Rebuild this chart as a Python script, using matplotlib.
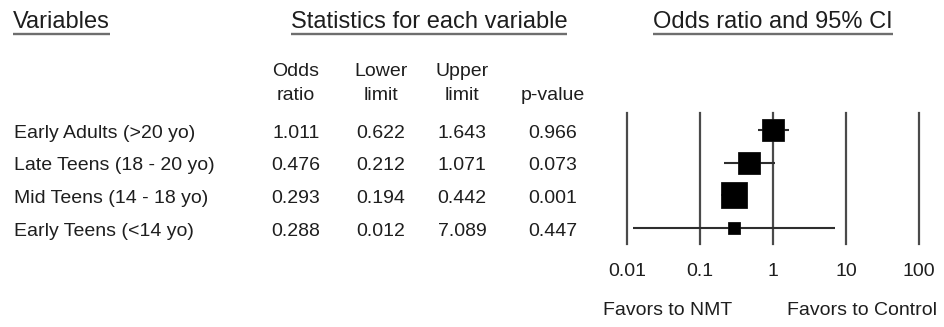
import matplotlib
matplotlib.use("Agg")
import matplotlib.pyplot as plt
import numpy as np

# ---- data -------------------------------------------------------------
variables = [
    "Early Adults (>20 yo)",
    "Late Teens (18 - 20 yo)",
    "Mid Teens (14 - 18 yo)",
    "Early Teens (<14 yo)",
]
odds_ratio = [1.011, 0.476, 0.293, 0.288]
lower_limit = [0.622, 0.212, 0.194, 0.012]
upper_limit = [1.643, 1.071, 0.442, 7.089]
p_value = [0.966, 0.073, 0.001, 0.447]
rel_weight = [27, 27, 39, 7]          # relative study weight (%), sets box size

column_headers = [("Odds", "ratio"), ("Lower", "limit"), ("Upper", "limit"), ("", "p-value")]
scale_ticks = [0.01, 0.1, 1, 10, 100]
scale_labels = ["0.01", "0.1", "1", "10", "100"]

# ---- figure setup -----------------------------------------------------
plt.rcParams["font.family"] = ["Liberation Sans", "DejaVu Sans"]
W, H, DPI = 945, 327, 100
TEXT = "#1e1e1e"
TITLE_FS, BODY_FS = 17, 14

fig = plt.figure(figsize=(W / DPI, H / DPI), dpi=DPI)
fig.patch.set_facecolor("white")

# overlay in pixel units for the table text
tx = fig.add_axes([0, 0, 1, 1])
tx.set_xlim(0, W)
tx.set_ylim(H, 0)
tx.axis("off")

# forest plot panel
AX_L, AX_R, AX_T, AX_B = 627, 919, 113, 244
ROW0, ROW_STEP = 130, 32.7
ax = fig.add_axes([AX_L / W, 1 - AX_B / H, (AX_R - AX_L) / W, (AX_B - AX_T) / H])
ax.set_xscale("log")
ax.set_xlim(scale_ticks[0], scale_ticks[-1])
ax.set_ylim(3 + (AX_B - (ROW0 + 3 * ROW_STEP)) / ROW_STEP, -(ROW0 - AX_T) / ROW_STEP)
ax.axis("off")
ax.patch.set_alpha(0)

for t in scale_ticks:
    ax.axvline(t, ymin=0, ymax=1, color="#4a4a4a", lw=1.6, clip_on=False, zorder=1)

rows = np.arange(len(variables))
ax.hlines(rows, lower_limit, upper_limit, color="#2e2e2e", lw=1.5, zorder=2)
for r, orv, w in zip(rows, odds_ratio, rel_weight):
    side_px = 4.23 * np.sqrt(w)
    ax.plot(orv, r, marker="s", ms=side_px * 72 / DPI, color="black",
            mec="#111111", mew=0.6, zorder=3)

# ---- headings ---------------------------------------------------------
titles = [
    tx.text(13, 28.5, "Variables", fontsize=TITLE_FS, color=TEXT, ha="left", va="baseline"),
    tx.text(429, 28.5, "Statistics for each variable", fontsize=TITLE_FS, color=TEXT,
            ha="center", va="baseline"),
    tx.text(773, 28.5, "Odds ratio and 95% CI", fontsize=TITLE_FS, color=TEXT,
            ha="center", va="baseline"),
]

col_x = [296, 381, 462, 553]
for cx, (l1, l2) in zip(col_x, column_headers):
    if l1:
        tx.text(cx, 76.5, l1, fontsize=BODY_FS, color=TEXT, ha="center", va="baseline")
    tx.text(cx, 100, l2, fontsize=BODY_FS, color=TEXT, ha="center", va="baseline")

# ---- table rows -------------------------------------------------------
for i, name in enumerate(variables):
    by = ROW0 + i * ROW_STEP + 7.5
    tx.text(14, by, name, fontsize=BODY_FS, color=TEXT, ha="left", va="baseline")
    vals = [odds_ratio[i], lower_limit[i], upper_limit[i], p_value[i]]
    for cx, v in zip(col_x, vals):
        tx.text(cx, by, f"{v:.3f}", fontsize=BODY_FS, color=TEXT, ha="center", va="baseline")

# ---- scale labels -----------------------------------------------------
for t, lab in zip(scale_ticks, scale_labels):
    px = AX_L + (np.log10(t) - np.log10(scale_ticks[0])) / (
        np.log10(scale_ticks[-1]) - np.log10(scale_ticks[0])) * (AX_R - AX_L)
    tx.text(px, 276.5, lab, fontsize=BODY_FS, color=TEXT, ha="center", va="baseline")

tx.text(603, 315, "Favors to NMT", fontsize=BODY_FS, color=TEXT, ha="left", va="baseline")
tx.text(937, 315, "Favors to Control", fontsize=BODY_FS, color=TEXT, ha="right", va="baseline")

# ---- underline the section headings -----------------------------------
fig.canvas.draw()
renderer = fig.canvas.get_renderer()
for t in titles:
    bb = t.get_window_extent(renderer)
    tx.plot([bb.x0, bb.x1], [33.5, 33.5], color="#6e6e6e", lw=1.7, solid_capstyle="butt")

fig.savefig("out.png", dpi=DPI, facecolor="white")
